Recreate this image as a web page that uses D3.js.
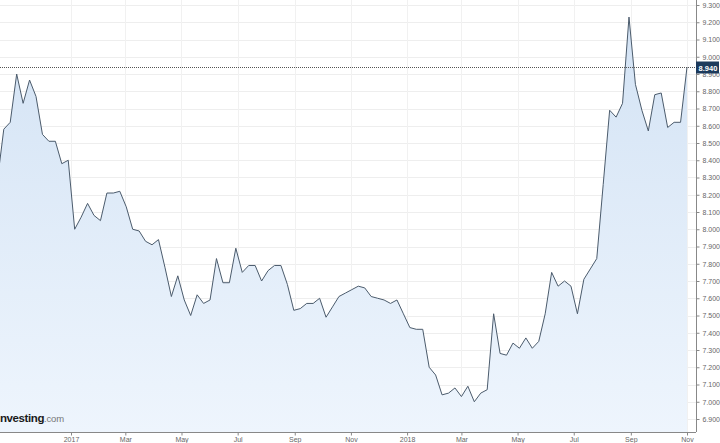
<!DOCTYPE html>
<html>
<head>
<meta charset="utf-8">
<script src="https://cdn.jsdelivr.net/npm/d3@7"></script>
<style>
  html, body { margin: 0; padding: 0; background: #fff; }
  svg { display: block; font-family: "Liberation Sans", Arial, sans-serif; }
</style>
</head>
<body>
<svg id="chart" width="720" height="443"></svg>
<script>
// ---- data (weekly closes) ----
const lastDate = new Date(2018, 10, 1);
const values = [
  8.28, 8.58, 8.62, 8.90, 8.73, 8.865, 8.77, 8.55, 8.51, 8.51,
  8.38, 8.40, 8.00, 8.07, 8.15, 8.08, 8.05, 8.21, 8.21, 8.22,
  8.13, 8.00, 7.99, 7.93, 7.91, 7.94, 7.78, 7.61, 7.73, 7.59,
  7.50, 7.62, 7.57, 7.59, 7.83, 7.69, 7.69, 7.89, 7.75, 7.79,
  7.79, 7.70, 7.76, 7.79, 7.79, 7.68, 7.53, 7.54, 7.57, 7.57,
  7.60, 7.49, 7.55, 7.61, 7.63, 7.65, 7.67, 7.66, 7.61, 7.60,
  7.59, 7.57, 7.59, 7.51, 7.43, 7.42, 7.42, 7.20, 7.155, 7.04,
  7.05, 7.08, 7.03, 7.09, 7.00, 7.05, 7.07, 7.51, 7.28, 7.27,
  7.34, 7.31, 7.37, 7.31, 7.35, 7.51, 7.75, 7.67, 7.70, 7.67,
  7.51, 7.71, 7.77, 7.83, 8.26, 8.69, 8.65, 8.73, 9.23, 8.84,
  8.69, 8.57, 8.78, 8.79, 8.59, 8.62, 8.62, 8.94
];
const dates = values.map((v, i) => d3.timeDay.offset(lastDate, -7 * (values.length - 1 - i)));
const yTicks = [6.9, 7.0, 7.1, 7.2, 7.3, 7.4, 7.5, 7.6, 7.7, 7.8, 7.9, 8.0, 8.1, 8.2, 8.3, 8.4, 8.5, 8.6, 8.7, 8.8, 8.9, 9.0, 9.1, 9.2, 9.3];
const xTicks = [
  new Date(2017, 0, 1), new Date(2017, 2, 1), new Date(2017, 4, 1), new Date(2017, 6, 1),
  new Date(2017, 8, 1), new Date(2017, 10, 1), new Date(2018, 0, 1), new Date(2018, 2, 1),
  new Date(2018, 4, 1), new Date(2018, 6, 1), new Date(2018, 8, 1), new Date(2018, 10, 1)
];
const data = dates.map((d, i) => ({ date: d, value: values[i] }));

// ---- layout ----
const svg = d3.select("#chart");
const plotRight = 696, plotBottom = 432;

const x = d3.scaleTime()
  .domain([new Date(2017, 0, 1), new Date(2018, 10, 1)])
  .range([71, 687]);
const y = d3.scaleLinear()
  .domain([6.9, 9.3])
  .range([419, 5]);

const defs = svg.append("defs");
const grad = defs.append("linearGradient")
  .attr("id", "fillGrad")
  .attr("gradientUnits", "userSpaceOnUse")
  .attr("x1", 0).attr("y1", 0).attr("x2", 0).attr("y2", plotBottom);
grad.append("stop").attr("offset", "0%").attr("stop-color", "#d2e2f4");
grad.append("stop").attr("offset", "100%").attr("stop-color", "#eef5fd");

defs.append("clipPath").attr("id", "plotClip")
  .append("rect").attr("x", 0).attr("y", 0).attr("width", plotRight).attr("height", plotBottom);

// gridlines
const grid = svg.append("g");
grid.selectAll("line.h").data(yTicks).enter().append("line")
  .attr("x1", 0).attr("x2", plotRight)
  .attr("y1", d => Math.round(y(d)) + 0.5).attr("y2", d => Math.round(y(d)) + 0.5)
  .attr("stroke", "#eeeeee").attr("stroke-width", 1);
grid.selectAll("line.v").data(xTicks).enter().append("line")
  .attr("x1", d => Math.round(x(d)) + 0.5).attr("x2", d => Math.round(x(d)) + 0.5)
  .attr("y1", 0).attr("y2", plotBottom)
  .attr("stroke", "#f1f1f1").attr("stroke-width", 1);

// area + line
const plot = svg.append("g").attr("clip-path", "url(#plotClip)");
plot.append("path").datum(data)
  .attr("d", d3.area().x(d => x(d.date)).y0(plotBottom).y1(d => y(d.value)))
  .attr("fill", "url(#fillGrad)");
plot.append("path").datum(data)
  .attr("d", d3.line().x(d => x(d.date)).y(d => y(d.value)))
  .attr("fill", "none").attr("stroke", "#4b5b6c").attr("stroke-width", 1)
  .attr("stroke-linejoin", "round");

// current value dotted line
const last = values[values.length - 1];
const ly = Math.round(y(last)) + 0.5;
svg.append("line")
  .attr("x1", 0).attr("x2", plotRight).attr("y1", ly).attr("y2", ly)
  .attr("stroke", "#555").attr("stroke-width", 1).attr("stroke-dasharray", "1,1");

// logo
const logo = svg.append("text").attr("x", 0).attr("y", 422);
logo.append("tspan").text("nvesting")
  .attr("font-size", 11.5).attr("font-weight", "bold").attr("fill", "#1a1a1a")
  .attr("letter-spacing", "-0.4");
logo.append("tspan").text(".com")
  .attr("font-size", 9.5).attr("fill", "#777").attr("letter-spacing", "-0.2");

// right axis
const yAxis = d3.axisRight(y).tickValues(yTicks).tickSize(3).tickPadding(3)
  .tickFormat(d3.format(".3f"));
const ya = svg.append("g").attr("transform", `translate(${plotRight + 0.5},0)`).call(yAxis);
ya.select(".domain").attr("stroke", "#888").attr("d", `M0,0V${plotBottom}`);
ya.selectAll(".tick line").attr("stroke", "#888");
ya.selectAll(".tick text").attr("fill", "#666").attr("font-size", 7)
  .attr("font-family", "Liberation Sans, Arial, sans-serif");

// bottom axis
const fmt = d => d.getMonth() === 0 ? d3.timeFormat("%Y")(d) : d3.timeFormat("%b")(d);
const xAxis = d3.axisBottom(x).tickValues(xTicks).tickSize(3).tickPadding(2).tickFormat(fmt);
const xa = svg.append("g").attr("transform", `translate(0,${plotBottom + 0.5})`).call(xAxis);
xa.select(".domain").attr("stroke", "#888").attr("d", `M0,0H${plotRight}`);
xa.selectAll(".tick line").attr("stroke", "#888");
xa.selectAll(".tick text").attr("fill", "#666").attr("font-size", 7)
  .attr("font-family", "Liberation Sans, Arial, sans-serif");

// current value label
const lab = svg.append("g").attr("transform", `translate(${plotRight},${ly})`);
lab.append("rect").attr("x", 0).attr("y", -6).attr("width", 23).attr("height", 12)
  .attr("fill", "#1c3a5c");
lab.append("text").attr("x", 12).attr("y", 3).attr("text-anchor", "middle")
  .attr("fill", "#fff").attr("font-size", 7.5).attr("font-weight", "bold")
  .text(d3.format(".3f")(last));
</script>
</body>
</html>
